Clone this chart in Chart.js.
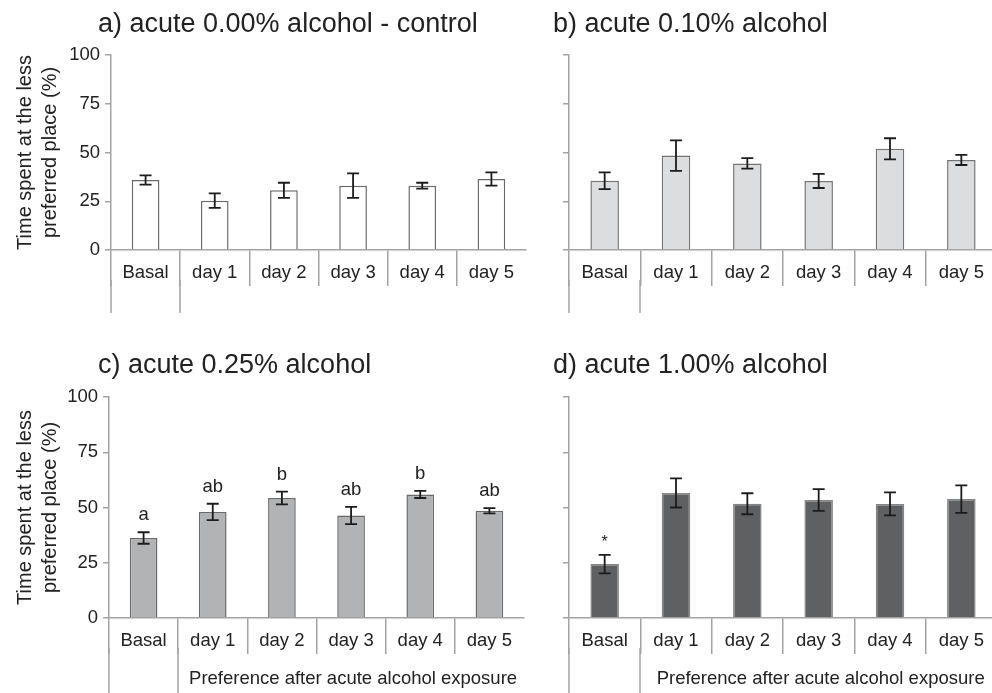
<!DOCTYPE html>
<html>
<head>
<meta charset="utf-8">
<script src="https://cdn.jsdelivr.net/npm/chart.js@4"></script>
<style>
  html, body { margin: 0; padding: 0; background: #fff; overflow: hidden; }
  #wrap { position: relative; width: 992px; height: 693px; overflow: hidden; background: #fff; }
  canvas { position: absolute; }
</style>
</head>
<body>
<div id="wrap">
  <canvas id="panelA" width="530" height="320" style="left:0;top:0"></canvas>
  <canvas id="panelB" width="520" height="320" style="left:480px;top:0"></canvas>
  <canvas id="panelC" width="528" height="373" style="left:0;top:320px"></canvas>
  <canvas id="panelD" width="520" height="373" style="left:480px;top:320px"></canvas>
</div>
<script>
// ---- data ----
const categories = ['Basal', 'day 1', 'day 2', 'day 3', 'day 4', 'day 5'];
const yTicks = [0, 25, 50, 75, 100];

const meanA = [35.9, 25.3, 30.6, 33.0, 33.0, 36.4];
const semA  = [2.4, 3.7, 3.9, 6.3, 1.5, 3.4];

const meanB = [35.5, 48.4, 44.4, 35.4, 51.9, 46.2];
const semB  = [4.3, 7.8, 2.7, 3.6, 5.4, 2.6];

const meanC = [36.2, 48.0, 54.3, 46.4, 55.9, 48.5];
const semC  = [2.6, 3.7, 2.9, 3.9, 1.6, 1.2];
const lettersC = ['a', 'ab', 'b', 'ab', 'b', 'ab'];

const meanD = [24.4, 56.6, 51.7, 53.4, 51.6, 53.8];
const semD  = [4.2, 6.6, 4.75, 4.9, 5.2, 6.25];
const marksD = ['*', '', '', '', '', ''];

const titleA = 'a) acute 0.00% alcohol - control';
const titleB = 'b) acute 0.10% alcohol';
const titleC = 'c) acute 0.25% alcohol';
const titleD = 'd) acute 1.00% alcohol';
const yAxisTitle = ['Time spent at the less', 'preferred place (%)'];
const groupLabel = 'Preference after acute alcohol exposure';

// ---- styling ----
const FONT = '"Liberation Sans", Arial, Helvetica, sans-serif';
const INK = '#222222';
const AXIS = '#a3a3a3';

// error bars, significance marks, panel title and the grouped category rows
function decor(cfg) {
  return {
    id: 'decor',
    afterDatasetsDraw(chart) {
      const ctx = chart.ctx;
      const y = chart.scales.y;
      const meta = chart.getDatasetMeta(0);
      ctx.save();
      ctx.strokeStyle = '#1c1c1c';
      ctx.lineWidth = 1.8;
      meta.data.forEach((bar, i) => {
        const m = cfg.mean[i], e = cfg.sem[i];
        const yt = y.getPixelForValue(m + e);
        const yb = y.getPixelForValue(m - e);
        ctx.beginPath();
        ctx.moveTo(bar.x, yt); ctx.lineTo(bar.x, yb);
        ctx.moveTo(bar.x - 6, yt); ctx.lineTo(bar.x + 6, yt);
        ctx.moveTo(bar.x - 6, yb); ctx.lineTo(bar.x + 6, yb);
        ctx.stroke();
        if (cfg.marks && cfg.marks[i]) {
          ctx.fillStyle = INK;
          ctx.font = cfg.markFont;
          ctx.textAlign = 'center';
          ctx.textBaseline = 'alphabetic';
          ctx.fillText(cfg.marks[i], bar.x, yt - cfg.markGap);
        }
      });
      ctx.restore();
    },
    afterDraw(chart) {
      const ctx = chart.ctx;
      const x = chart.scales.x;
      const area = chart.chartArea;
      ctx.save();
      // panel title
      ctx.fillStyle = INK;
      ctx.font = '27px ' + FONT;
      ctx.textAlign = 'left';
      ctx.textBaseline = 'alphabetic';
      ctx.fillText(cfg.title, cfg.titleX, cfg.titleY);

      // lower row: Basal cell borders run further down
      const w = (x.right - x.left) / categories.length;
      ctx.strokeStyle = AXIS;
      ctx.lineWidth = 1.5;
      [0, 1].forEach(k => {
        const px = Math.round(x.left + k * w);
        ctx.beginPath();
        ctx.moveTo(px, area.bottom + 30);
        ctx.lineTo(px, cfg.extendTo);
        ctx.stroke();
      });

      if (cfg.group) {
        ctx.fillStyle = INK;
        ctx.font = '18.5px ' + FONT;
        ctx.textAlign = 'center';
        ctx.fillText(cfg.group, (x.left + w + x.right) / 2 + 2, area.bottom + 66);
      }
      ctx.restore();
    }
  };
}

function makePanel(id, cfg) {
  new Chart(document.getElementById(id), {
    type: 'bar',
    data: {
      labels: categories,
      datasets: [{
        data: cfg.mean,
        backgroundColor: cfg.fill,
        borderColor: cfg.edge,
        borderWidth: 1.5,
        barPercentage: 0.4,
        categoryPercentage: 1.0
      }]
    },
    options: {
      responsive: false,
      animation: false,
      devicePixelRatio: 1,
      layout: { padding: { left: 0, top: cfg.padTop, right: cfg.padRight, bottom: 0 } },
      plugins: { legend: { display: false }, tooltip: { enabled: false }, title: { display: false } },
      scales: {
        x: {
          type: 'category',
          offset: true,
          afterFit: s => { s.height = cfg.xHeight; },
          border: { color: AXIS, width: 1.5 },
          grid: {
            offset: true,
            drawOnChartArea: false,
            tickLength: 36,
            lineWidth: 1.5,
            color: c => (c.type === 'tick' || cfg.openRight) ? AXIS : 'rgba(0,0,0,0)'
          },
          ticks: {
            padding: -24,
            color: INK,
            autoSkip: false,
            maxRotation: 0,
            font: { size: 18.5, family: FONT }
          }
        },
        y: {
          min: 0,
          max: 100,
          afterBuildTicks: s => { s.ticks = yTicks.map(v => ({ value: v })); },
          afterFit: s => { s.width = cfg.yWidth; },
          border: { color: AXIS, width: 1.5 },
          grid: { drawOnChartArea: false, color: AXIS, tickLength: 6, lineWidth: 1.5 },
          ticks: {
            display: cfg.yLabels,
            padding: 5,
            color: INK,
            font: { size: 18.5, family: FONT }
          },
          title: {
            display: cfg.yLabels,
            text: yAxisTitle,
            color: INK,
            font: { size: 20, family: FONT, lineHeight: 1.25 },
            padding: { top: 12.5, bottom: 0 }
          }
        }
      }
    },
    plugins: [decor(cfg)]
  });
}

makePanel('panelA', {
  mean: meanA, sem: semA, fill: '#ffffff', edge: '#6a6a6a',
  title: titleA, titleX: 98, titleY: 32,
  padTop: 55, padRight: 4, xHeight: 70, yWidth: 111, yLabels: true,
  extendTo: 313, openRight: false
});

makePanel('panelB', {
  mean: meanB, sem: semB, fill: '#dcdddf', edge: '#747474',
  title: titleB, titleX: 73, titleY: 32,
  padTop: 55, padRight: 3, xHeight: 70, yWidth: 89, yLabels: false,
  extendTo: 313, openRight: true
});

makePanel('panelC', {
  mean: meanC, sem: semC, fill: '#b2b3b5', edge: '#6a6a6a',
  marks: lettersC, markFont: '18.5px ' + FONT, markGap: 12,
  title: titleC, titleX: 98, titleY: 53,
  padTop: 77, padRight: 4, xHeight: 75, yWidth: 109, yLabels: true,
  extendTo: 373, group: groupLabel, openRight: false
});

makePanel('panelD', {
  mean: meanD, sem: semD, fill: '#5f6062', edge: '#858585',
  marks: marksD, markFont: '16px ' + FONT, markGap: 8,
  title: titleD, titleX: 73, titleY: 53,
  padTop: 77, padRight: 3, xHeight: 75, yWidth: 89, yLabels: false,
  extendTo: 373, group: groupLabel, openRight: true
});
</script>
</body>
</html>
